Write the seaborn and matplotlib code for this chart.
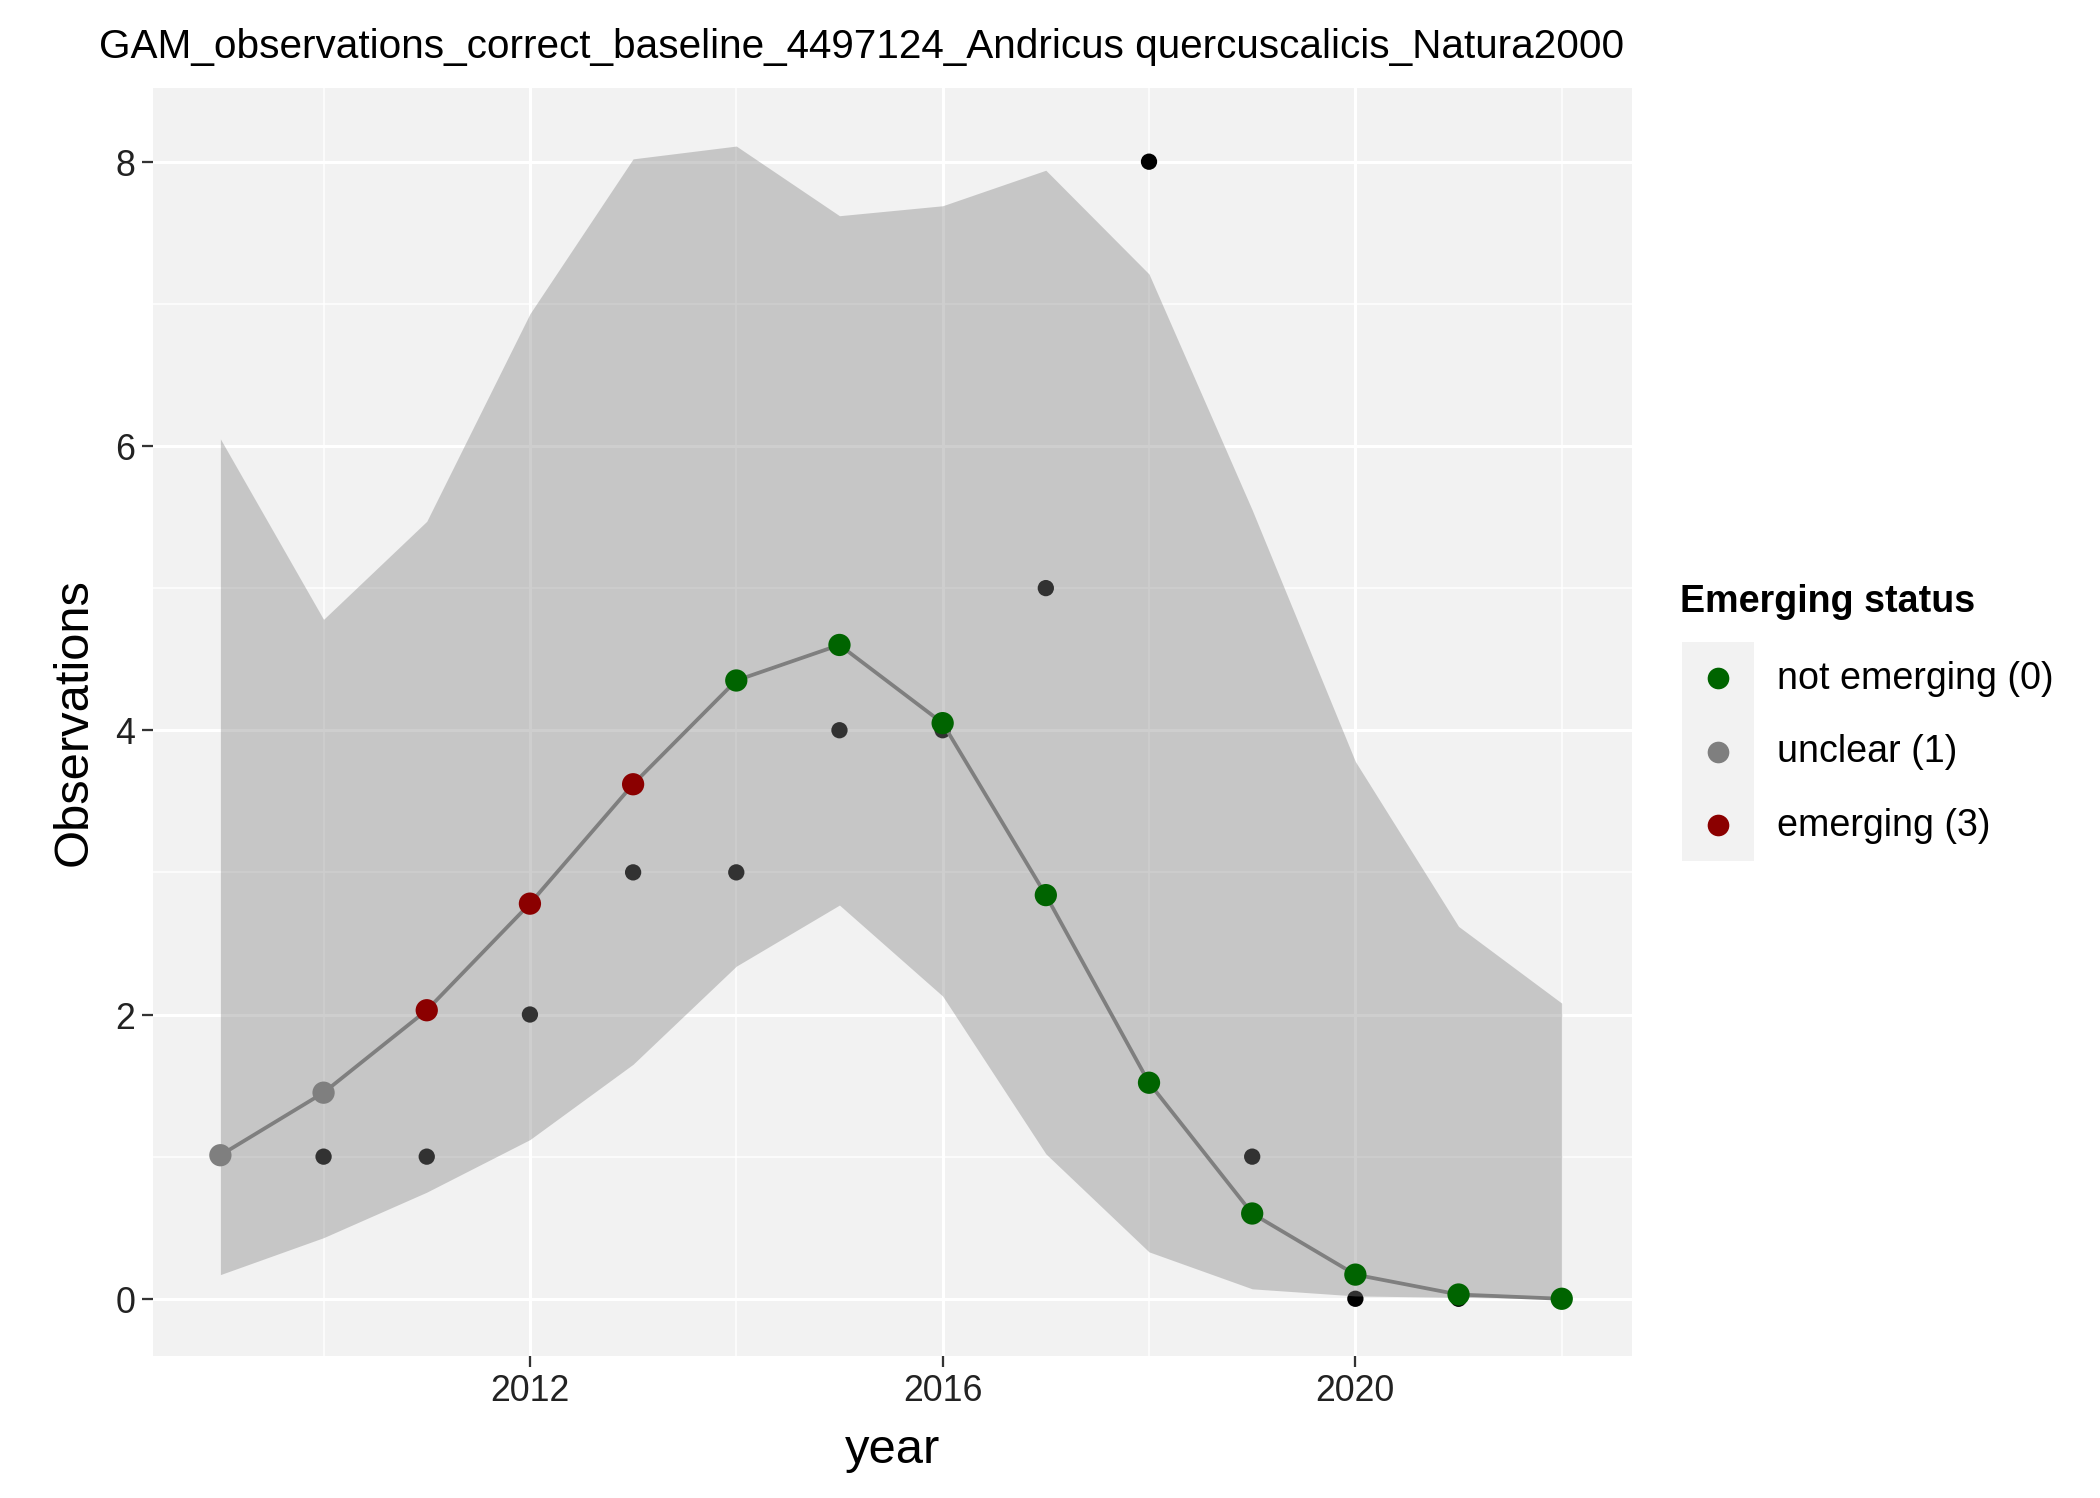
import numpy as np
import pandas as pd
import seaborn as sns
import matplotlib.pyplot as plt
from matplotlib.lines import Line2D
from matplotlib.patches import Rectangle

years = list(range(2009, 2023))
observed = [1, 1, 1, 2, 3, 3, 4, 4, 5, 8, 1, 0, 0, 0]
fit = [1.01, 1.45, 2.03, 2.78, 3.62, 4.35, 4.60, 4.05, 2.84, 1.52, 0.60, 0.17, 0.03, 0.00]
upper = [6.05, 4.78, 5.47, 6.93, 8.02, 8.11, 7.62, 7.69, 7.94, 7.21, 5.55, 3.78, 2.62, 2.08]
lower = [0.17, 0.43, 0.75, 1.12, 1.65, 2.34, 2.77, 2.13, 1.02, 0.33, 0.07, 0.02, 0.01, 0.00]
status = ["unclear (1)"] * 2 + ["emerging (3)"] * 3 + ["not emerging (0)"] * 9
labels = ["not emerging (0)", "unclear (1)", "emerging (3)"]
colors = {"not emerging (0)": "#006400", "unclear (1)": "#7F7F7F", "emerging (3)": "#8B0000"}

df = pd.DataFrame(dict(year=years, obs=observed, fit=fit, upper=upper, lower=lower, status=status))

plt.rcParams['font.family'] = ['Liberation Sans', 'DejaVu Sans']
fig = plt.figure(figsize=(15.5, 11.06), dpi=135.5)
ax = fig.add_axes([0.073, 0.095, 0.704, 0.846])
ax.set_facecolor("#F2F2F2")

sns.scatterplot(data=df, x="year", y="obs", color="black", s=75, edgecolor="none", ax=ax, zorder=2)
ax.fill_between(df.year, df.lower, df.upper, color="#828282", alpha=0.39, lw=0, zorder=3)
sns.lineplot(data=df, x="year", y="fit", color="#7F7F7F", lw=2, ax=ax, zorder=4)
sns.scatterplot(data=df, x="year", y="fit", hue="status", palette=colors, hue_order=labels,
                s=140, edgecolor="none", ax=ax, zorder=5, legend=False)

ax.set_xlim(2008.35, 2022.68)
ax.set_ylim(-0.40, 8.52)
ax.set_xticks([2012, 2016, 2020])
ax.set_xticks([2010, 2014, 2018, 2022], minor=True)
ax.set_yticks([0, 2, 4, 6, 8])
ax.set_yticks([1, 3, 5, 7], minor=True)
ax.grid(which="major", color="white", lw=1.6, zorder=0)
ax.grid(which="minor", color="white", lw=0.8, zorder=0)
ax.set_axisbelow(True)
for s in ax.spines.values():
    s.set_visible(False)
ax.tick_params(which="major", length=6, width=1.2, color="#333333", labelsize=19, labelcolor="#222222")
ax.tick_params(which="minor", length=0)
ax.set_xlabel("year", fontsize=26, labelpad=10)
ax.set_ylabel("Observations", fontsize=26, labelpad=10)
ax.set_title("GAM_observations_correct_baseline_4497124_Andricus quercuscalicis_Natura2000",
             fontsize=21.5, loc="left", x=-0.037, pad=16)

# legend drawn by hand, ggplot style
fig.patches.append(Rectangle((0.801, 0.425), 0.034, 0.146, transform=fig.transFigure,
                             facecolor="#F2F2F2", edgecolor="none"))
fig.text(0.800, 0.598, "Emerging status", fontsize=20, weight="bold", va="center")
for lab, y in zip(labels, [0.547, 0.498, 0.449]):
    fig.add_artist(Line2D([0.818], [y], marker="o", ls="", color=colors[lab], markersize=10.5,
                          transform=fig.transFigure))
    fig.text(0.846, y, lab, fontsize=20, va="center")

fig.savefig("out.png", dpi=135.5)
